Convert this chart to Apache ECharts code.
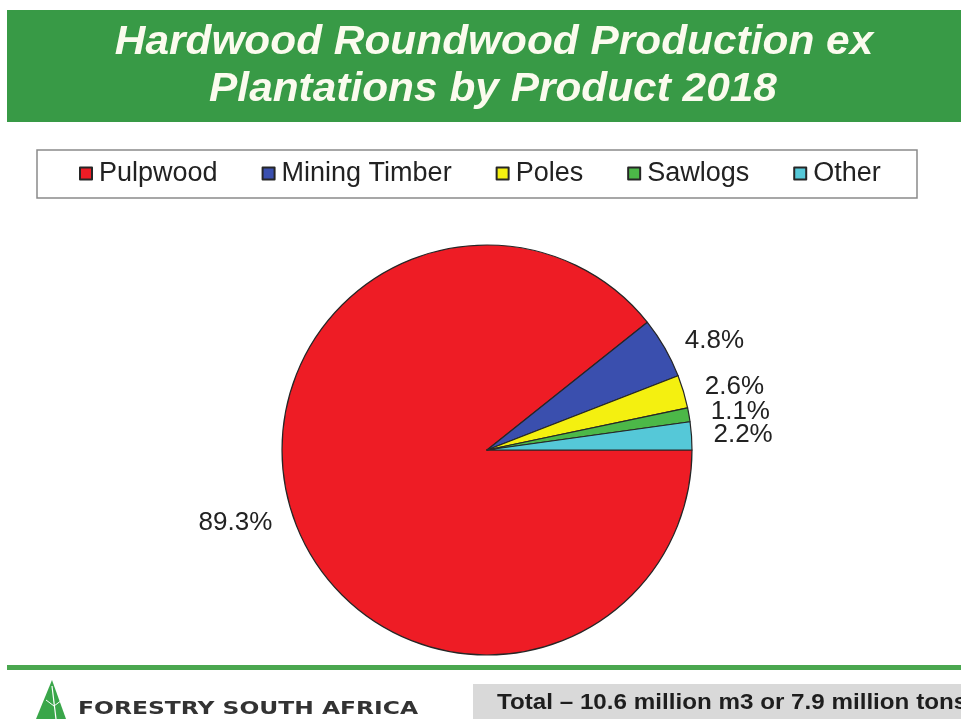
<!DOCTYPE html>
<html>
<head>
<meta charset="utf-8">
<title>Hardwood Roundwood Production ex Plantations by Product 2018</title>
<script src="https://cdn.jsdelivr.net/npm/echarts@6/dist/echarts.min.js"></script>
<style>
  html, body { margin: 0; padding: 0; background: #ffffff; }
  #chart { width: 961px; height: 719px; }
</style>
</head>
<body>
<div id="chart"></div>
<script>
// Product categories (legend order) and their shares of production, in percent
const products = ['Pulpwood', 'Mining Timber', 'Poles', 'Sawlogs', 'Other'];
const shares = [89.3, 4.8, 2.6, 1.1, 2.2];
const sliceColors = ['#ee1c25', '#3a4fae', '#f4f010', '#4cb848', '#55c8d8'];

const titleLines = ['Hardwood Roundwood Production ex', 'Plantations by Product 2018'];
const footerBrand = 'FORESTRY SOUTH AFRICA';
const footerTotal = 'Total \u2013 10.6 million m3 or 7.9 million tons';

const BANNER_GREEN = '#389a46';
const SANS = '"Liberation Sans", Arial, sans-serif';

const chart = echarts.init(document.getElementById('chart'), null, { renderer: 'canvas' });

const pieData = products.map((name, i) => ({
  name: name,
  value: shares[i],
  itemStyle: { color: sliceColors[i] }
}));

const option = {
  backgroundColor: '#ffffff',
  animation: false,
  legend: {
    data: products,
    left: 79,
    top: 160,
    padding: 0,
    itemGap: 44,
    itemWidth: 12,
    itemHeight: 12,
    icon: 'rect',
    textStyle: { fontFamily: SANS, fontSize: 27, color: '#222', padding: [0, 0, 0, 2] },
    selectedMode: false
  },
  graphic: [
    // title banner
    { type: 'rect', shape: { x: 7, y: 10, width: 954, height: 112 }, style: { fill: BANNER_GREEN }, z: 0 },
    { type: 'text', x: 494, y: 43, scaleX: 1.06,
      style: { text: titleLines[0], font: 'italic bold 40px ' + SANS, fill: '#fbfbee', align: 'center', verticalAlign: 'middle' } },
    { type: 'text', x: 493, y: 90, scaleX: 1.06,
      style: { text: titleLines[1], font: 'italic bold 40px ' + SANS, fill: '#fbfbee', align: 'center', verticalAlign: 'middle' } },
    // legend frame
    { type: 'rect', shape: { x: 37, y: 150, width: 880, height: 48 },
      style: { fill: 'none', stroke: '#8a8a8a', lineWidth: 1.5 } },
    // footer rule
    { type: 'rect', shape: { x: 7, y: 665, width: 954, height: 5 }, style: { fill: '#4aa74f' } },
    // footer logo: stylised pine tree
    { type: 'polygon', shape: { points: [[52, 680], [36, 719], [66, 719]] }, style: { fill: '#3aa64a' } },
    { type: 'polyline', shape: { points: [[52, 686], [56, 719]] }, style: { stroke: '#ffffff', lineWidth: 1.2 } },
    { type: 'polyline', shape: { points: [[46, 700], [54, 706], [62, 700]] }, style: { stroke: '#ffffff', lineWidth: 1, fill: 'none' } },
    { type: 'text', x: 78, y: 709, scaleX: 1.3,
      style: { text: footerBrand, font: 'bold 18px "DejaVu Sans", sans-serif', fill: '#333333', align: 'left', verticalAlign: 'middle' } },
    // footer total box
    { type: 'rect', shape: { x: 473, y: 684, width: 488, height: 35 }, style: { fill: '#d9d9d9' } },
    { type: 'text', x: 497, y: 703, scaleX: 1.1,
      style: { text: footerTotal, font: 'bold 22px ' + SANS, fill: '#1e1e1e', align: 'left', verticalAlign: 'middle' } }
  ],
  series: [{
    type: 'pie',
    center: [487, 450],
    radius: 205,
    startAngle: 0,
    clockwise: true,
    avoidLabelOverlap: false,
    data: pieData,
    itemStyle: { borderColor: '#262626', borderWidth: 1.2 },
    label: {
      show: true,
      position: 'outside',
      formatter: p => p.value.toFixed(1) + '%',
      fontFamily: SANS,
      fontSize: 26,
      color: '#222',
      lineHeight: 22
    },
    labelLayout: { hideOverlap: false },
    labelLine: { show: false, length: 15, length2: 2 },
    emphasis: { disabled: true }
  }]
};

chart.setOption(option);
</script>
</body>
</html>
